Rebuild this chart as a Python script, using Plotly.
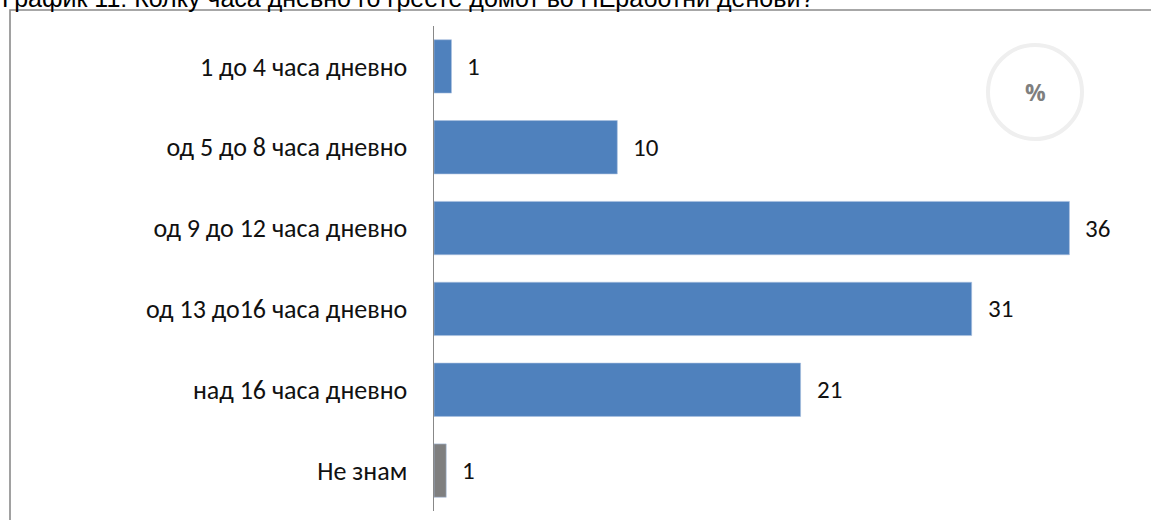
import plotly.graph_objects as go

categories = ["1 до 4 часа дневно", "од 5 до 8 часа дневно", "од 9 до 12 часа дневно",
              "од 13 до16 часа дневно", "над 16 часа дневно", "Не знам"]
values = [1.0, 10.5, 36.4, 30.8, 21.0, 0.7]
labels = ["1", "10", "36", "31", "21", "1"]
colors = ["#4f81bd", "#4f81bd", "#4f81bd", "#4f81bd", "#4f81bd", "#7f7f7f"]
title_text = "График 11: Колку часа дневно го греете домот во НЕработни денови?"

W, H = 1151, 520
ML, MR, MT, MB = 434, 10, 26, 9
pw = W - ML - MR
ph = H - MT - MB

font_fam = "Carlito, Open Sans, sans-serif"

fig = go.Figure()
fig.add_trace(go.Bar(
    y=categories, x=values, orientation="h",
    marker=dict(color=colors, line=dict(color="#a9c0df", width=0.6)),
    width=0.66, hoverinfo="skip", showlegend=False,
))

for c, v, t in zip(categories, values, labels):
    fig.add_annotation(x=v, y=c, xref="x", yref="y", text=t, showarrow=False,
                       xanchor="left", yanchor="middle", xshift=14,
                       font=dict(family=font_fam, size=25, color="#111111"))

# outer frame (partly cut off)
fig.add_shape(type="rect", xref="paper", yref="paper",
              x0=(10 - ML) / pw, x1=(W + 20 - ML) / pw,
              y0=-(MB + 20) / ph, y1=1 + (MT - 10) / ph,
              line=dict(color="#8a8a8a", width=1.6), fillcolor="rgba(0,0,0,0)", layer="below")

# title (cut off at the top edge, as in the reference)
fig.add_annotation(x=(0 - ML) / pw, y=1 + (MT + 2) / ph, xref="paper", yref="paper",
                   text=title_text, showarrow=False, xanchor="left", yanchor="middle",
                   font=dict(family="Liberation Sans, Arial, sans-serif", size=25, color="#000000"))

# percent badge
cx = (1035 - ML) / pw
cy = 1 - (92 - MT) / ph
fig.add_shape(type="circle", xref="paper", yref="paper",
              xsizemode="pixel", ysizemode="pixel", xanchor=cx, yanchor=cy,
              x0=-47, x1=47, y0=-47, y1=47,
              line=dict(color="#efefef", width=4))
fig.add_annotation(x=cx, y=cy, xref="paper", yref="paper", text="<b>%</b>", showarrow=False,
                   xanchor="center", yanchor="middle",
                   font=dict(family="Open Sans, sans-serif", size=23, color="#7f7f7f"))

fig.update_layout(
    width=W, height=H,
    margin=dict(l=ML, r=MR, t=MT, b=MB, pad=0),
    paper_bgcolor="white", plot_bgcolor="white",
    xaxis=dict(range=[0, 40.5], visible=False, fixedrange=True),
    yaxis=dict(autorange="reversed", showgrid=False, zeroline=False,
               showline=True, linecolor="#888888", linewidth=1.5,
               ticks="", ticklabelstandoff=20, fixedrange=True,
               tickfont=dict(family=font_fam, size=26, color="#111111")),
    bargap=0.34,
)

fig.write_html("out.html", config={"displayModeBar": False, "staticPlot": True},
               post_script="document.body.style.margin='0';document.body.style.overflow='hidden';")
